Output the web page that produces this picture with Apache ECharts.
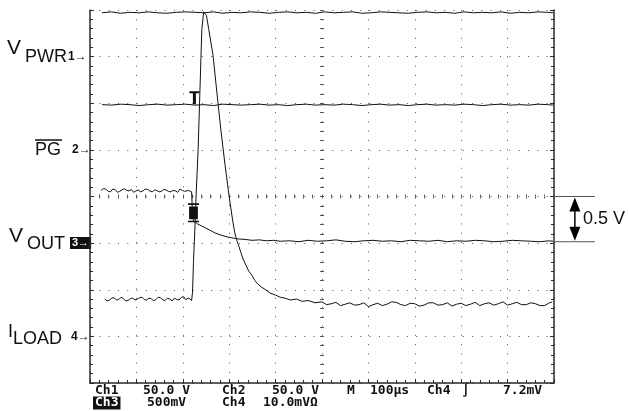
<!DOCTYPE html>
<html>
<head>
<meta charset="utf-8">
<script src="https://cdn.jsdelivr.net/npm/echarts/dist/echarts.min.js"></script>
<style>html,body{margin:0;padding:0;background:#fff}#c{width:629px;height:411px}</style>
</head>
<body>
<div id="c"></div>
<script>
// x: time in µs (100 µs/div, 10 divs); y: screen divisions (0 = bottom, 8 = top)
const flatTimes = [26,46,66,86,106,126,146,166,186,206,226,246,266,286,306,326,346,366,386,406,426,446,466,486,506,526,546,566,586,606,626,646,666,686,706,726,746,766,786,806,826,846,866,886,906,926,946,966,986,998];
const vpwrLevels = [7.94,7.96,7.93,7.95,7.94,7.96,7.94,7.93,7.95,7.96,7.95,7.94,7.96,7.93,7.95,7.94,7.96,7.95,7.93,7.95,7.96,7.94,7.95,7.93,7.96,7.94,7.95,7.96,7.93,7.94,7.96,7.95,7.94,7.93,7.95,7.96,7.94,7.95,7.93,7.96,7.94,7.95,7.94,7.96,7.93,7.95,7.94,7.96,7.95,7.94];
const pgLevels = [5.97,5.96,5.98,5.97,5.95,5.97,5.98,5.96,5.97,5.98,5.96,5.97,5.95,5.98,5.97,5.96,5.97,5.98,5.96,5.97,5.95,5.97,5.98,5.96,5.97,5.96,5.98,5.97,5.95,5.97,5.98,5.96,5.97,5.95,5.97,5.98,5.96,5.97,5.96,5.98,5.97,5.95,5.97,5.98,5.96,5.97,5.96,5.98,5.97,5.96];
const voutTrace = [[24,4.13],[29,4.17],[34,4.16],[39,4.11],[44,4.10],[49,4.16],[54,4.15],[59,4.09],[64,4.11],[69,4.14],[74,4.17],[79,4.13],[84,4.12],[89,4.15],[94,4.09],[99,4.12],[104,4.14],[109,4.10],[114,4.12],[119,4.16],[124,4.15],[129,4.12],[134,4.10],[139,4.14],[144,4.13],[149,4.10],[154,4.11],[159,4.15],[164,4.14],[169,4.11],[174,4.10],[179,4.13],[184,4.12],[189,4.09],[194,4.16],[199,4.13],[204,4.11],[208,4.15],[212,4.13],[216,4.16],[219,4.10],
  [221,3.60],[223,3.48],[226,3.44],[232,3.41],[240,3.37],[248,3.33],[258,3.28],[269,3.22],[283,3.17],[297,3.13],[308,3.11],[319,3.09],[334,3.08],[349,3.06],[365,3.07],[380,3.05],[395,3.06],[410,3.04],
  [430,3.05],[450,3.03],[470,3.06],[490,3.04],[510,3.05],[530,3.07],[550,3.04],[570,3.03],[590,3.05],[610,3.06],[630,3.04],[650,3.05],[670,3.03],[690,3.06],[710,3.05],[730,3.04],[750,3.06],[770,3.03],[790,3.05],[810,3.04],[830,3.06],[850,3.05],[870,3.03],[890,3.04],[910,3.06],[930,3.05],[950,3.04],[970,3.03],[990,3.05],[998,3.04]];
const iloadTrace = [[32,1.80],[37,1.76],[42,1.78],[47,1.82],[52,1.83],[57,1.78],[62,1.79],[67,1.84],[72,1.81],[77,1.76],[82,1.77],[87,1.81],[92,1.82],[97,1.78],[102,1.80],[107,1.83],[112,1.84],[117,1.79],[122,1.78],[127,1.82],[132,1.81],[137,1.76],[142,1.79],[147,1.84],[152,1.83],[157,1.78],[162,1.77],[167,1.82],[172,1.80],[177,1.76],[182,1.82],[187,1.79],[192,1.78],[197,1.84],[202,1.85],[206,1.79],[210,1.76],[213,1.82],[216,1.79],[219,1.77],
  [221,1.95],[223,2.60],[226,3.30],[229,4.10],[233,5.00],[237,6.29],[241,7.58],[245,7.96],[248,7.98],
  [251,7.88],[256,7.58],[265,7.04],[274,6.18],[282,5.43],[291,4.68],[300,3.99],[308,3.45],[312,3.22],[317,3.04],[321,2.93],[325,2.80],[330,2.66],[336,2.53],[342,2.40],[349,2.31],[355,2.20],[362,2.12],[369,2.06],[377,2.01],[388,1.93],[399,1.89],[410,1.84],[420,1.82],[432,1.78],[445,1.80],[458,1.75],[470,1.77],[485,1.72],[500,1.74],
  [510,1.68],[520,1.70],[530,1.73],[540,1.66],[550,1.69],[560,1.72],[570,1.67],[580,1.68],[590,1.72],[600,1.64],[610,1.68],[620,1.71],[630,1.66],[640,1.69],[650,1.74],[660,1.73],[670,1.68],[680,1.66],[690,1.71],[700,1.70],[710,1.65],[720,1.67],[730,1.72],[740,1.72],[750,1.67],[760,1.68],[770,1.72],[780,1.65],[790,1.69],[800,1.71],[810,1.66],[820,1.69],[830,1.73],[840,1.66],[850,1.70],[860,1.72],[870,1.67],[880,1.70],[890,1.74],[900,1.67],[910,1.70],[920,1.73],[930,1.68],[940,1.68],[950,1.72],[960,1.70],[970,1.66],[980,1.66],[988,1.71],[996,1.74]];
const trigMarkPG = [225, 6.12];
const levelMarkVout = [223, 3.65];
const deltaLevels = [4.0, 3.03];
const deltaX = [1002, 1088, 1045];
const deltaLabel = '0.5 V';
const settingsRow1 = ['Ch1','50.0 V','Ch2','50.0 V','M','100µs','Ch4','∫','7.2mV'];
const settingsRow2 = ['Ch3','500mV','Ch4','10.0mVΩ'];

const row1X = [95,143,222,272,347,370,427,462,503];
const row2X = [93,147,222,263];

const chart = echarts.init(document.getElementById('c'), null, {renderer:'canvas'});
const dark = '#2a2a2a';
function edgeAxis(pos, extra) {
  return Object.assign({
    type:'value', position:pos, silent:true,
    axisLine:{show:true, onZero:false, lineStyle:{color:dark, width:1.5}},
    axisTick:{show:true, inside:true, length:4, lineStyle:{color:dark, width:1}},
    minorTick:{show:true, splitNumber:5, length:3, lineStyle:{color:dark, width:1}},
    axisLabel:{show:false}, splitLine:{show:false}
  }, extra);
}
function centerAxis(pos, offset, inside) {
  return {
    type:'value', position:pos, offset:offset, silent:true,
    axisLine:{show:false, onZero:false},
    axisTick:{show:true, inside:inside, length:2, lineStyle:{color:'#555', width:1}},
    minorTick:{show:true, splitNumber:5, length:2, lineStyle:{color:'#555', width:1}},
    axisLabel:{show:false}, splitLine:{show:false}
  };
}
const xBase = {min:0, max:1000, interval:100};
const yBase = {min:0, max:8, interval:1};
const lineBase = {type:'line', showSymbol:false, symbol:'none', silent:true, animation:false,
  lineStyle:{color:'#111', width:1}, z:5};

const mono = 'bold 13px "DejaVu Sans Mono"';
const graphics = [];
settingsRow1.forEach((t,i)=>graphics.push({type:'text', silent:true, style:{text:t, x:row1X[i], y:391, font:mono, fill:'#111', verticalAlign:'middle'}}));
settingsRow2.forEach((t,i)=>graphics.push({type:'text', silent:true, style:i===0
  ? {text:t, x:row2X[i], y:403, font:mono, fill:'#fff', backgroundColor:'#111', padding:[0,2,0,2], verticalAlign:'middle'}
  : {text:t, x:row2X[i], y:403, font:mono, fill:'#111', verticalAlign:'middle'}}));
const big = '21px "Liberation Sans"', mid = '18px "Liberation Sans"', small = 'bold 12px "Liberation Sans"';
[
  {text:'V', x:7, y:48, font:big}, {text:'PWR', x:25, y:57, font:mid}, {text:'1→', x:68, y:57, font:small},
  {text:'PG', x:35, y:150, font:mid}, {text:'2→', x:72, y:150, font:small},
  {text:'V', x:9, y:236, font:big}, {text:'OUT', x:27, y:244, font:mid},
  {text:'I', x:8, y:332, font:mid}, {text:'LOAD', x:13, y:339, font:mid}, {text:'4→', x:71, y:337, font:small}
].forEach(s=>graphics.push({type:'text', silent:true, style:Object.assign({fill:'#111', verticalAlign:'middle'}, s)}));
graphics.push({type:'text', silent:true, style:{text:'3→', x:70, y:243, font:'bold 11px "Liberation Sans"', fill:'#fff', backgroundColor:'#111', padding:[1,2,0,2], verticalAlign:'middle'}});
graphics.push({type:'line', silent:true, shape:{x1:35, y1:140, x2:62, y2:140}, style:{stroke:'#111', lineWidth:1.5}});

chart.setOption({
  animation:false,
  backgroundColor:'#fff',
  grid:{left:90, right:75, top:10, bottom:28, outerBoundsMode:'none', containLabel:false},
  xAxis:[
    edgeAxis('bottom', Object.assign({splitLine:{show:true, lineStyle:{color:'#555', width:1, type:[1,8.28]}}}, xBase)),
    Object.assign(centerAxis('bottom', -186.5, true), xBase),
    Object.assign(centerAxis('bottom', -186.5, false), xBase)
  ],
  yAxis:[
    edgeAxis('left', Object.assign({splitLine:{show:true, lineStyle:{color:'#555', width:1, type:[1,8.32]}}}, yBase)),
    edgeAxis('right', yBase),
    Object.assign(centerAxis('left', -232, true), yBase),
    Object.assign(centerAxis('left', -232, false), yBase)
  ],
  series:[
    Object.assign({}, lineBase, {name:'V_PWR', data:flatTimes.map((t,i)=>[t, vpwrLevels[i]])}),
    Object.assign({}, lineBase, {name:'PG', data:flatTimes.map((t,i)=>[t, pgLevels[i]]),
      markPoint:{silent:true, animation:false, label:{show:false},
        data:[{coord:trigMarkPG, symbol:'path://M0,0L10,0L10,2L6.5,2L6.5,13L3.5,13L3.5,2L0,2Z', symbolSize:[10,13], itemStyle:{color:'#111'}}]}}),
    Object.assign({}, lineBase, {name:'V_OUT', data:voutTrace,
      markPoint:{silent:true, animation:false, label:{show:false},
        data:[{coord:levelMarkVout, symbol:'path://M0,0L10,0L10,1.5L0,1.5Z M1,3L9,3L9,15L1,15Z M0,16.5L10,16.5L10,18L0,18Z', symbolSize:[11,19], itemStyle:{color:'#111'}}]}}),
    Object.assign({}, lineBase, {name:'I_LOAD', data:iloadTrace})
  ]
});

// 0.5 V delta annotation to the right of the graticule, placed through the grid's own scales
const pTop0 = chart.convertToPixel({gridIndex:0}, [deltaX[0], deltaLevels[0]]);
const pTop1 = chart.convertToPixel({gridIndex:0}, [deltaX[1], deltaLevels[0]]);
const pBot0 = chart.convertToPixel({gridIndex:0}, [deltaX[0], deltaLevels[1]]);
const pBot1 = chart.convertToPixel({gridIndex:0}, [deltaX[1], deltaLevels[1]]);
const pAx = chart.convertToPixel({gridIndex:0}, [deltaX[2], deltaLevels[0]])[0];
const yT = pTop0[1], yB = pBot0[1], yM = (yT + yB) / 2;
graphics.push(
  {type:'line', silent:true, shape:{x1:pTop0[0], y1:yT, x2:pTop1[0], y2:yT}, style:{stroke:'#555', lineWidth:1}},
  {type:'line', silent:true, shape:{x1:pBot0[0], y1:yB, x2:pBot1[0], y2:yB}, style:{stroke:'#555', lineWidth:1}},
  {type:'line', silent:true, shape:{x1:pAx, y1:yT + 8, x2:pAx, y2:yB - 8}, style:{stroke:'#000', lineWidth:1.5}},
  {type:'polygon', silent:true, shape:{points:[[pAx, yT + 1],[pAx - 5.5, yT + 15],[pAx + 5.5, yT + 15]]}, style:{fill:'#000'}},
  {type:'polygon', silent:true, shape:{points:[[pAx, yB - 1],[pAx - 5.5, yB - 15],[pAx + 5.5, yB - 15]]}, style:{fill:'#000'}},
  {type:'text', silent:true, style:{text:deltaLabel, x:pAx + 8, y:yM, font:'18px "Liberation Sans"', fill:'#111', verticalAlign:'middle'}}
);
chart.setOption({graphic:graphics});
</script>
</body>
</html>
